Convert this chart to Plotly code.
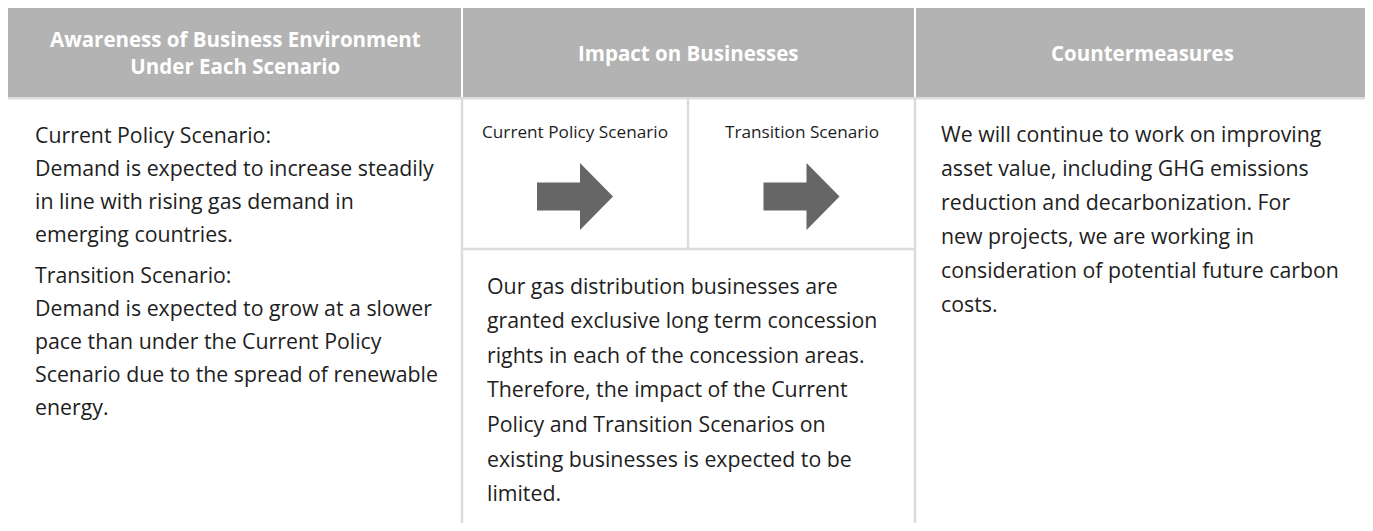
import plotly.graph_objects as go

# ---------------- content ----------------
headers = [
    ["Awareness of Business Environment", "Under Each Scenario"],
    ["Impact on Businesses"],
    ["Countermeasures"],
]
scenario_labels = ["Current Policy Scenario", "Transition Scenario"]

left_par1 = [
    "Current Policy Scenario:",
    "Demand is expected to increase steadily",
    "in line with rising gas demand in",
    "emerging countries.",
]
left_par2 = [
    "Transition Scenario:",
    "Demand is expected to grow at a slower",
    "pace than under the Current Policy",
    "Scenario due to the spread of renewable",
    "energy.",
]
middle_lines = [
    "Our gas distribution businesses are",
    "granted exclusive long term concession",
    "rights in each of the concession areas.",
    "Therefore, the impact of the Current",
    "Policy and Transition Scenarios on",
    "existing businesses is expected to be",
    "limited.",
]
right_lines = [
    "We will continue to work on improving",
    "asset value, including GHG emissions",
    "reduction and decarbonization. For",
    "new projects, we are working in",
    "consideration of potential future carbon",
    "costs.",
]

# ---------------- layout constants ----------------
PAGE_W, PAGE_H = 1373, 531
BODY_MARGIN = 8          # default page margin around the plot div
W, H = PAGE_W - 2 * BODY_MARGIN, PAGE_H - 2 * BODY_MARGIN
FONT = "Open Sans"
BODY_SIZE = 21.3
HEAD_SIZE = 20.5
LABEL_SIZE = 17.2
HEAD_FILL = "#b3b3b3"
BORDER = "#dcdcdc"
TEXT = "#1e1e1e"
ARROW = "#666666"

col_x = [8, 462, 915, 1370]
head_top, head_bot = 8, 97

fig = go.Figure()
shapes = []
ann = []

# strip below header
shapes.append(dict(type="rect", x0=col_x[0], x1=col_x[3], y0=head_bot, y1=head_bot + 2.5,
                   fillcolor=BORDER, line_width=0, layer="below"))
# header cells
for i in range(3):
    x0 = col_x[i] + (1 if i > 0 else 0)
    x1 = col_x[i + 1] - (1 if i < 2 else 0)
    shapes.append(dict(type="rect", x0=x0, x1=x1, y0=head_top, y1=head_bot,
                       fillcolor=HEAD_FILL, line_width=0, layer="below"))
    ann.append(dict(x=(col_x[i] + col_x[i + 1]) / 2, y=(head_top + head_bot) / 2,
                    text="<br>".join("<b>" + t + "</b>" for t in headers[i]),
                    showarrow=False,
                    font=dict(family=FONT, size=HEAD_SIZE, color="white"),
                    xanchor="center", yanchor="middle", align="center"))

# body borders
sub_mid = 688
sub_bot = 249
for xv in (col_x[1], col_x[2]):
    shapes.append(dict(type="line", x0=xv, x1=xv, y0=head_bot, y1=PAGE_H,
                       line=dict(color=BORDER, width=2.5)))
shapes.append(dict(type="line", x0=sub_mid, x1=sub_mid, y0=head_bot, y1=sub_bot,
                   line=dict(color=BORDER, width=2.5)))
shapes.append(dict(type="line", x0=col_x[1], x1=col_x[2], y0=sub_bot, y1=sub_bot,
                   line=dict(color=BORDER, width=2.5)))

# scenario sub-cells: labels and arrows
sub_cells = [(col_x[1], sub_mid), (sub_mid, col_x[2])]
for (a, b), lab in zip(sub_cells, scenario_labels):
    cx = (a + b) / 2
    ann.append(dict(x=cx, y=131, text=lab, showarrow=False,
                    font=dict(family=FONT, size=LABEL_SIZE, color=TEXT),
                    xanchor="center", yanchor="middle"))
    ay = 196.5
    L, hw, sw, hl = 76, 33.5, 14, 33
    x0 = cx - L / 2
    x1 = cx + L / 2
    xs = x1 - hl
    path = (f"M {x0} {ay - sw} L {xs} {ay - sw} L {xs} {ay - hw} L {x1} {ay} "
            f"L {xs} {ay + hw} L {xs} {ay + sw} L {x0} {ay + sw} Z")
    shapes.append(dict(type="path", path=path, fillcolor=ARROW, line_width=0))


def add_lines(lines, x, y0, step):
    for k, t in enumerate(lines):
        ann.append(dict(x=x, y=y0 + k * step, text=t, showarrow=False,
                        font=dict(family=FONT, size=BODY_SIZE, color=TEXT),
                        xanchor="left", yanchor="middle"))


add_lines(left_par1, 33, 134, 33)
add_lines(left_par2, 33, 274, 33)
add_lines(middle_lines, 485, 285, 34.6)
add_lines(right_lines, 939, 133, 34)

fig.update_layout(
    width=W, height=H,
    margin=dict(l=0, r=0, t=0, b=0),
    paper_bgcolor="white", plot_bgcolor="white",
    xaxis=dict(range=[BODY_MARGIN, BODY_MARGIN + W], visible=False, fixedrange=True),
    yaxis=dict(range=[BODY_MARGIN + H, BODY_MARGIN], visible=False, fixedrange=True),
    shapes=shapes, annotations=ann, showlegend=False,
)
fig.write_html("out.html")
